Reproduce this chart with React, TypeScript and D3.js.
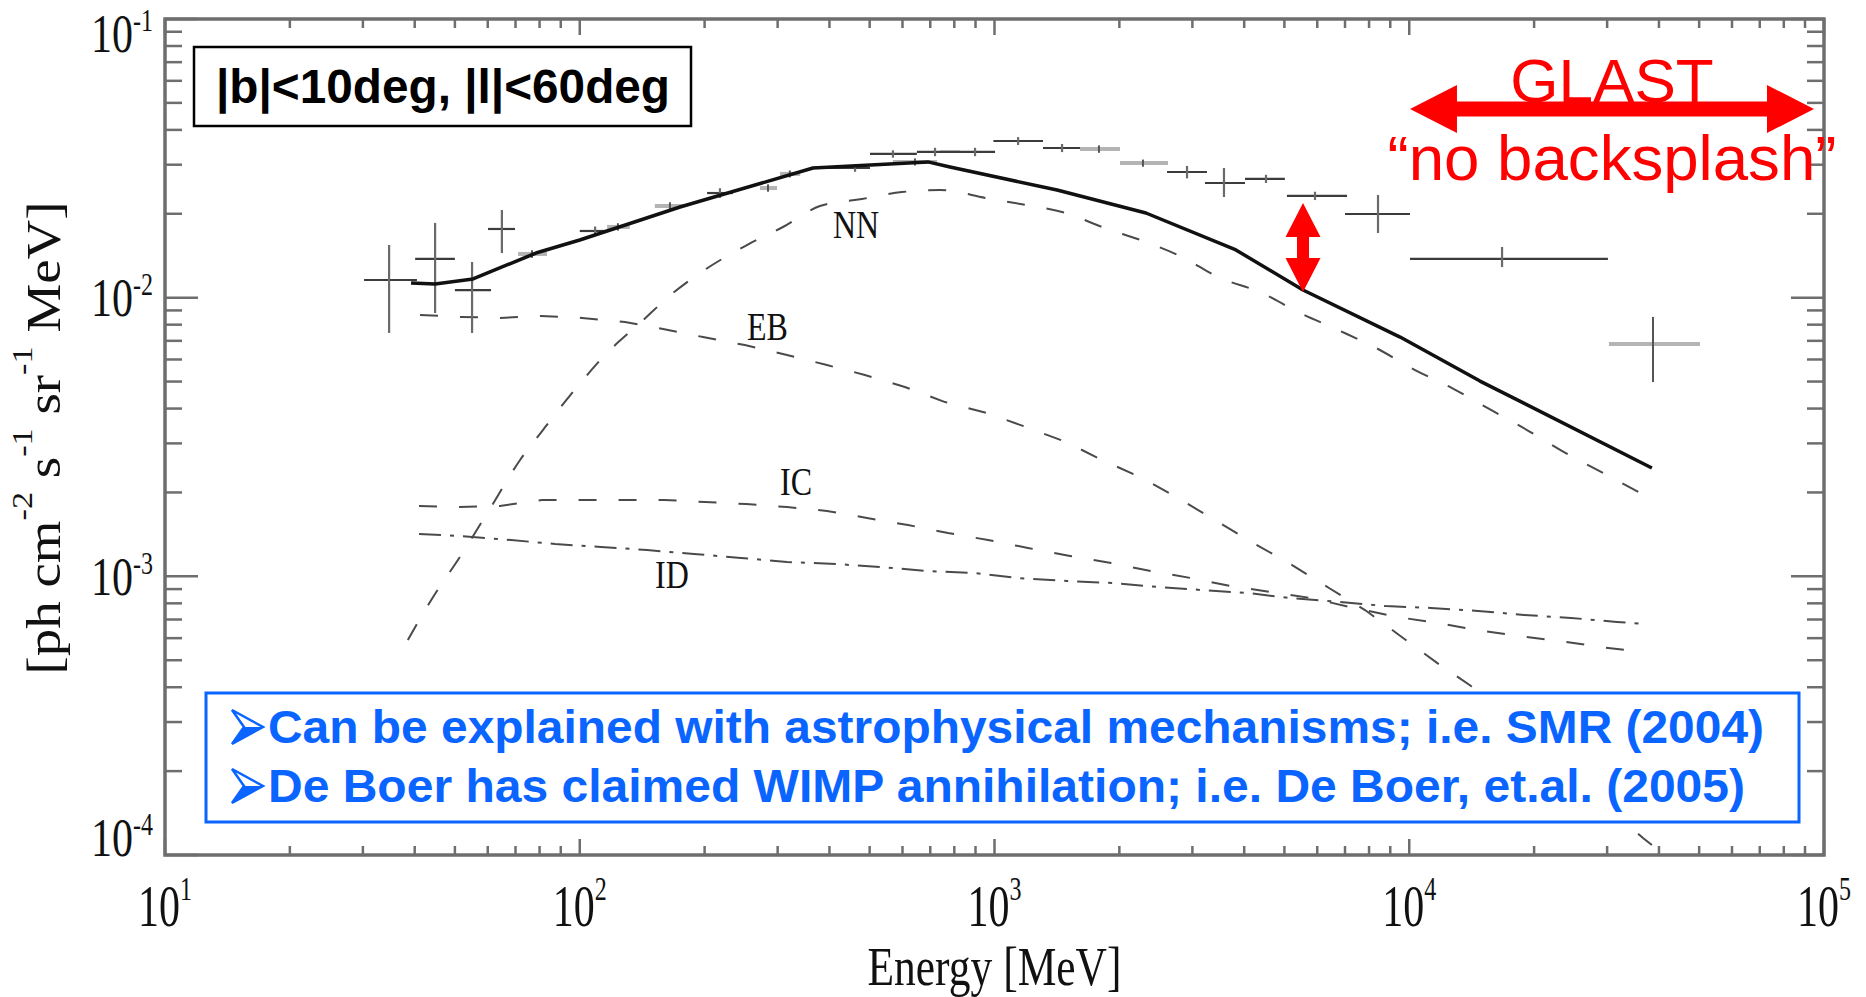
import * as d3 from 'd3';

const WIDTH = 1866;
const HEIGHT = 997;
const margin = { top: 19, right: 42, bottom: 142, left: 165 };

const xDomain: [number, number] = [10, 1e5];
const yDomain: [number, number] = [1e-4, 1e-1];
const xTickExponents = ['1', '2', '3', '4', '5'];
const yTickExponents = ['-1', '-2', '-3', '-4'];

// EGRET points: [E, Elo, Ehi, flux, fluxLo, fluxHi]
const egretDark: number[][] = [
  [34.7, 30.2, 40.5, 0.01157, 0.00747, 0.01545],
  [44.8, 40.1, 50.0, 0.01377, 0.00881, 0.01854],
  [55.0, 50.0, 61.1, 0.01065, 0.00747, 0.01343],
  [64.9, 60.1, 69.8, 0.01764, 0.01446, 0.02063],
  [108.9, 100, 116.4, 0.01735, 0.0167, 0.018],
  [217.8, 202.8, 234, 0.02374, 0.0228, 0.0247],
  [461, 373, 501, 0.02919, 0.0283, 0.0301],
  [569, 501, 650, 0.03279, 0.0318, 0.0338],
  [718.7, 650, 826, 0.03333, 0.0322, 0.0345],
  [897.5, 739, 1003, 0.03333, 0.0322, 0.0345],
  [1140, 994, 1309, 0.03649, 0.0353, 0.0377],
  [1455, 1309, 1608, 0.03444, 0.0333, 0.0356],
  [2912, 2606, 3253, 0.02825, 0.0268, 0.0297],
  [3575, 3217, 4018, 0.02579, 0.02297, 0.02919],
  [4514, 4018, 5013, 0.02667, 0.0258, 0.0276],
  [5926, 5072, 7079, 0.02317, 0.0224, 0.024],
  [8408, 7000, 10040, 0.01996, 0.01706, 0.02335],
  [16740, 10040, 30130, 0.01377, 0.01288, 0.0152],
];

const egretGrey: number[][] = [
  [76.7, 71.0, 83.4, 0.01435, 0.0139, 0.0148],
  [123.6, 116.4, 132, 0.01794, 0.0174, 0.0185],
  [165, 151.7, 177.4, 0.02133, 0.0207, 0.022],
  [284.4, 272, 299, 0.02474, 0.024, 0.0255],
  [321, 304, 340, 0.0278, 0.027, 0.0286],
  [643, 569, 727, 0.0307, 0.0298, 0.0316],
  [1786, 1608, 2007, 0.03416, 0.0331, 0.0352],
  [2280, 2007, 2620, 0.03042, 0.0295, 0.0313],
  [38700, 30300, 50230, 0.00682, 0.00498, 0.00853],
];

// model curves: [E, flux]
const totalCurve: [number, number][] = [
  [39.2, 0.01129], [44.8, 0.0112], [55.3, 0.01167], [78.4, 0.01446], [100, 0.0161],
  [174.5, 0.02115], [365, 0.02919], [691, 0.0307], [781, 0.02943], [1415, 0.02434],
  [2318, 0.02013], [3820, 0.01483], [5544, 0.01065], [9505, 0.00722],
  [14810, 0.00502], [38460, 0.002448],
];

const nnCurve: [number, number][] = [
  [38.5, 0.000591], [44.3, 0.000843], [51.4, 0.001173], [61.1, 0.001774], [71.8, 0.002616],
  [81.5, 0.00335], [98.5, 0.00478], [116.3, 0.00633], [139.7, 0.00811], [167.8, 0.01039],
  [195, 0.01226], [253, 0.01545], [309, 0.01793], [379.5, 0.02133], [479, 0.0226],
  [598, 0.02393], [739, 0.02434], [954, 0.02278], [1191, 0.0215], [1487, 0.02013],
  [1816, 0.01793], [2318, 0.01584], [2832, 0.014], [3458, 0.01186], [4416, 0.01039],
  [5394, 0.00888], [6732, 0.00766], [8315, 0.0066], [10330, 0.0055], [12680, 0.00474],
  [15740, 0.003953], [19230, 0.00335], [23610, 0.00279], [29310, 0.00235], [38020, 0.00191],
];

const ebCurve: [number, number][] = [
  [41.2, 0.00867], [51.4, 0.00853], [64.2, 0.00846], [80.6, 0.0086], [101.3, 0.00846],
  [128.5, 0.00818], [158.8, 0.00772], [198.2, 0.00722], [250, 0.00676], [316, 0.00623],
  [394.5, 0.00573], [487, 0.00528], [608, 0.00478], [760, 0.00422], [954, 0.00386],
  [1191, 0.003435], [1487, 0.003034], [1816, 0.002616], [2268, 0.002254], [2770, 0.00191],
  [3458, 0.001567], [4201, 0.001317], [5129, 0.001116], [6405, 0.000908], [7822, 0.000757],
  [9447, 0.000616], [11670, 0.000489], [14090, 0.000404], [36610, 0.000115], [38460, 0.0001086],
];

const icCurve: [number, number][] = [
  [40.97, 0.001788], [51.2, 0.001773], [64.2, 0.001788], [81.1, 0.001879], [101.3, 0.001879],
  [127.2, 0.001879], [159.7, 0.001879], [200.4, 0.001848], [251.7, 0.001818], [316, 0.001773],
  [394.5, 0.001716], [492.7, 0.00162], [618.7, 0.001528], [772.5, 0.00143], [964.6, 0.00135],
  [1204, 0.001264], [1521, 0.001183], [1910, 0.001116], [2384, 0.001045], [2977, 0.000986],
  [3718, 0.000923], [5795, 0.000836], [7361, 0.00077], [9343, 0.000715], [11670, 0.00068],
  [14570, 0.000642], [18290, 0.000611], [23090, 0.000586], [28840, 0.000558], [36410, 0.000535],
];

const idCurve: [number, number][] = [
  [40.97, 0.001419], [51.7, 0.001395], [68.3, 0.00135], [87.2, 0.001306], [112.5, 0.001274],
  [145.3, 0.001243], [188.6, 0.001203], [244.8, 0.001164], [316, 0.001126], [414.8, 0.001107],
  [532.5, 0.00108], [683.9, 0.001045], [897.5, 0.001028], [1140, 0.000986], [1496, 0.000962],
  [1931, 0.000946], [2479, 0.000916], [3165, 0.000893], [4108, 0.000871], [5129, 0.000836],
  [6808, 0.000809], [8790, 0.000782], [11280, 0.00077], [14650, 0.000751], [18910, 0.000727],
  [24550, 0.000709], [31690, 0.000686], [37010, 0.000675],
];

// curve labels placed in data coordinates: [text, E, flux]
const curveLabels: [string, number, number][] = [
  ['NN', 407.8, 0.01637],
  ['EB', 253, 0.007047],
  ['IC', 304, 0.001959],
  ['ID', 151.9, 0.000908],
];

const regionText = '|b|<10deg, |l|<60deg';
const noteLines = [
  'Can be explained with astrophysical mechanisms; i.e. SMR (2004)',
  'De Boer has claimed WIMP annihilation; i.e. De Boer, et.al. (2005)',
];
const glastRange: [number, number] = [10040, 94600];
const glastFlux = 0.04754;
const gapArrow = { e: 5544, lo: 0.01048, hi: 0.02187 };

const SERIF = '"Liberation Serif", "DejaVu Serif", serif';
const SANS = '"Liberation Sans", Arial, sans-serif';
const BLUE = '#0a64ff';
const RED = '#ff0000';

export default function App() {
  const x = d3.scaleLog().domain(xDomain).range([margin.left, WIDTH - margin.right]);
  const y = d3.scaleLog().domain(yDomain).range([HEIGHT - margin.bottom, margin.top]);
  const line = d3.line<[number, number]>().x(d => x(d[0])).y(d => y(d[1]));
  const smooth = d3.line<[number, number]>().x(d => x(d[0])).y(d => y(d[1])).curve(d3.curveMonotoneX);

  const [x0, x1] = x.range();
  const [y0, y1] = y.range(); // y0 bottom, y1 top
  const isMajor = (v: number) => Math.abs(Math.log10(v) - Math.round(Math.log10(v))) < 1e-6;
  const xt = x.ticks();
  const yt = y.ticks();

  // GLAST arrow
  const gx1 = x(glastRange[0]);
  const gx2 = x(glastRange[1]);
  const gy = y(glastFlux);
  const gHead = 47, gHalf = 24, gShaft = 7.5;
  const glastPath = [
    [gx1, gy], [gx1 + gHead, gy - gHalf], [gx1 + gHead, gy - gShaft], [gx2 - gHead, gy - gShaft],
    [gx2 - gHead, gy - gHalf], [gx2, gy], [gx2 - gHead, gy + gHalf], [gx2 - gHead, gy + gShaft],
    [gx1 + gHead, gy + gShaft], [gx1 + gHead, gy + gHalf],
  ].map(p => p.join(',')).join(' ');

  // vertical gap arrow
  const vx = x(gapArrow.e);
  const vTop = y(gapArrow.hi);
  const vBot = y(gapArrow.lo);
  const vHead = 34, vHalf = 17.5, vShaft = 6;
  const gapPath = [
    [vx, vTop], [vx + vHalf, vTop + vHead], [vx + vShaft, vTop + vHead], [vx + vShaft, vBot - vHead],
    [vx + vHalf, vBot - vHead], [vx, vBot], [vx - vHalf, vBot - vHead], [vx - vShaft, vBot - vHead],
    [vx - vShaft, vTop + vHead], [vx - vHalf, vTop + vHead],
  ].map(p => p.join(',')).join(' ');

  const errorBars = (pts: number[][], hColor: string, hWidth: number, vColor: string, vWidth: number) =>
    pts.map((p, i) => (
      <g key={i}>
        <line x1={x(p[1])} x2={x(p[2])} y1={y(p[3])} y2={y(p[3])} stroke={hColor} strokeWidth={hWidth} />
        <line x1={x(p[0])} x2={x(p[0])} y1={y(p[4])} y2={y(p[5])} stroke={vColor} strokeWidth={vWidth} />
      </g>
    ));

  return (
    <svg width={WIDTH} height={HEIGHT} style={{ position: 'absolute', left: 0, top: 0, background: '#fff' }}>
      <rect width={WIDTH} height={HEIGHT} fill="#fff" />

      {/* model curves */}
      <path d={line(ebCurve) ?? ''} fill="none" stroke="#4a4a4a" strokeWidth={2} strokeDasharray="18 22" />
      <path d={line(icCurve) ?? ''} fill="none" stroke="#4a4a4a" strokeWidth={2} strokeDasharray="18 22" />
      <path d={line(idCurve) ?? ''} fill="none" stroke="#4a4a4a" strokeWidth={2} strokeDasharray="22 9 4 9" />
      <path d={smooth(nnCurve) ?? ''} fill="none" stroke="#4a4a4a" strokeWidth={2} strokeDasharray="18 22" />

      {/* data */}
      {errorBars(egretGrey, '#b4b4b4', 4, '#555', 2)}
      {errorBars(egretDark, '#3c3c3c', 2.2, '#6a6a6a', 2.2)}

      <path d={line(totalCurve) ?? ''} fill="none" stroke="#111" strokeWidth={3.5} strokeLinejoin="round" />

      {curveLabels.map(([t, e, f]) => (
        <g key={t} transform={`translate(${x(e)},${y(f)}) scale(1,1.28)`}>
          <text x={0} y={0} fontFamily={SERIF} fontSize={32} fill="#111">{t}</text>
        </g>
      ))}

      {/* frame and ticks */}
      <rect x={x0} y={y1} width={x1 - x0} height={y0 - y1} fill="none" stroke="#6e6e6e" strokeWidth={3.5} />
      {xt.map((v, i) => {
        const len = isMajor(v) ? 16 : 9;
        return (
          <g key={'xt' + i} stroke="#6e6e6e" strokeWidth={2.5}>
            <line x1={x(v)} x2={x(v)} y1={y0} y2={y0 - len} />
            <line x1={x(v)} x2={x(v)} y1={y1} y2={y1 + len} />
          </g>
        );
      })}
      {yt.map((v, i) => {
        const len = isMajor(v) ? 33 : 17;
        return (
          <g key={'yt' + i} stroke="#6e6e6e" strokeWidth={2.5}>
            <line x1={x0} x2={x0 + len} y1={y(v)} y2={y(v)} />
            <line x1={x1} x2={x1 - len} y1={y(v)} y2={y(v)} />
          </g>
        );
      })}

      {/* tick labels */}
      {xt.filter(isMajor).map((v, i) => (
        <g key={'xl' + i} transform={`translate(${x(v)},906) scale(1,1.4)`}>
          <text x={0} y={14} textAnchor="middle" fontFamily={SERIF} fontSize={42} fill="#111">
            10<tspan dy={-18} fontSize={24}>{xTickExponents[i]}</tspan>
          </text>
        </g>
      ))}
      {yt.filter(isMajor).reverse().map((v, i) => {
        const cy = Math.max(y1 + 15, Math.min(y0 - 17, y(v)));
        return (
          <g key={'yl' + i} transform={`translate(91,${cy}) scale(1,1.3)`}>
            <text x={0} y={14} fontFamily={SERIF} fontSize={42} fill="#111">
              10<tspan dy={-16} fontSize={24}>{yTickExponents[i]}</tspan>
            </text>
          </g>
        );
      })}

      {/* axis titles */}
      <g transform={`translate(${(x0 + x1) / 2},985) scale(1,1.25)`}>
        <text x={0} y={0} textAnchor="middle" fontFamily={SERIF} fontSize={44}
          textLength={254} lengthAdjust="spacingAndGlyphs" fill="#111">Energy [MeV]</text>
      </g>
      <g transform="translate(60,438) rotate(-90)">
        <text x={0} y={0} textAnchor="middle" fontFamily={SERIF} fontSize={48} fill="#111"
          textLength={473} lengthAdjust="spacingAndGlyphs">
          [ph  cm<tspan dy={-28} fontSize={30}>-2</tspan>
          <tspan dy={28} fontSize={48}>  s</tspan><tspan dy={-28} fontSize={30}>-1</tspan>
          <tspan dy={28} fontSize={48}>  sr</tspan><tspan dy={-28} fontSize={30}>-1</tspan>
          <tspan dy={28} fontSize={48}>  MeV]</tspan>
        </text>
      </g>

      {/* region box */}
      <rect x={194} y={47} width={497} height={79} fill="#fff" stroke="#000" strokeWidth={2.5} />
      <text x={216} y={103} fontFamily={SANS} fontWeight="bold" fontSize={48} fill="#000"
        textLength={454} lengthAdjust="spacingAndGlyphs">{regionText}</text>

      {/* notes box */}
      <rect x={206} y={693} width={1593} height={129} fill="#fff" stroke={BLUE} strokeWidth={3} />
      {noteLines.map((t, i) => {
        const base = 743 + i * 59;
        return (
          <g key={'n' + i}>
            <polygon points={`232,${base - 33} 263,${base - 16} 232,${base + 1} 244,${base - 16}`}
              fill="#fff" stroke={BLUE} strokeWidth={2.5} strokeLinejoin="miter" />
            <polygon points={`244,${base - 16} 263,${base - 16} 232,${base + 1}`} fill={BLUE} />
            <text x={268} y={base} fontFamily={SANS} fontWeight="bold" fontSize={46} fill={BLUE}
              textLength={i === 0 ? 1496 : 1477} lengthAdjust="spacingAndGlyphs">{t}</text>
          </g>
        );
      })}

      {/* GLAST annotation */}
      <polygon points={glastPath} fill={RED} />
      <text x={(gx1 + gx2) / 2} y={gy - 7} textAnchor="middle" fontFamily={SANS} fontSize={62} fill={RED}>GLAST</text>
      <text x={(gx1 + gx2) / 2} y={180} textAnchor="middle" fontFamily={SANS} fontSize={63} fill={RED}
        textLength={449} lengthAdjust="spacingAndGlyphs">“no backsplash”</text>
      <polygon points={gapPath} fill={RED} />
    </svg>
  );
}
